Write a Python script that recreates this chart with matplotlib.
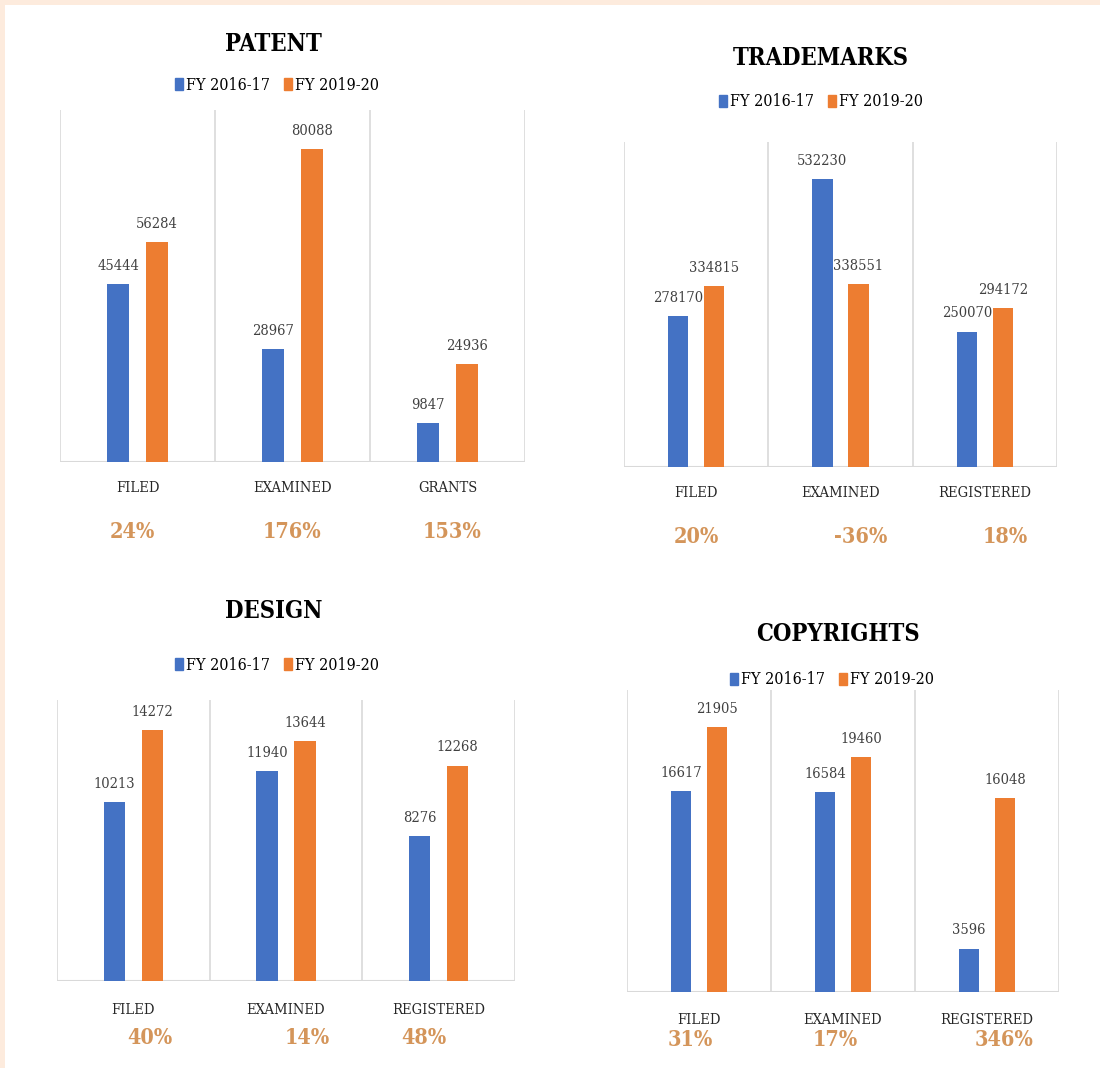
import matplotlib.pyplot as plt
import numpy as np

# data
series_names = ['FY 2016-17', 'FY 2019-20']

patent_cats = ['FILED', 'EXAMINED', 'GRANTS']
patent_old = [45444, 28967, 9847]
patent_new = [56284, 80088, 24936]
patent_pct = ['24%', '176%', '153%']

tm_cats = ['FILED', 'EXAMINED', 'REGISTERED']
tm_old = [278170, 532230, 250070]
tm_new = [334815, 338551, 294172]
tm_pct = ['20%', '-36%', '18%']

design_cats = ['FILED', 'EXAMINED', 'REGISTERED']
design_old = [10213, 11940, 8276]
design_new = [14272, 13644, 12268]
design_pct = ['40%', '14%', '48%']

copy_cats = ['FILED', 'EXAMINED', 'REGISTERED']
copy_old = [16617, 16584, 3596]
copy_new = [21905, 19460, 16048]
copy_pct = ['31%', '17%', '346%']

BLUE = '#4472C4'
ORANGE = '#ED7D31'
PCT = '#D4955A'
GRID = '#D9D9D9'
FONT = ['DejaVu Serif', 'Liberation Serif']

W, H = 1100, 1068
fig = plt.figure(figsize=(W / 100, H / 100), dpi=100)
fig.patch.set_facecolor('#FDEBDD')
bg = fig.add_axes([5 / W, 0, 1 - 5 / W, 1 - 5 / H])
bg.set_facecolor('white')
bg.set_xticks([])
bg.set_yticks([])
for s in bg.spines.values():
    s.set_visible(False)


def px_axes(x0, y0, x1, y1):
    # pixel box (top-left origin) -> figure fraction
    return fig.add_axes([x0 / W, 1 - y1 / H, (x1 - x0) / W, (y1 - y0) / H])


def panel(box, ymax, title, title_xy, legend_xy, cats, old, new, pct,
          pct_dx, cat_dy, pct_dy):
    ax = px_axes(*box)
    x = np.arange(len(cats))
    w = 0.14
    ax.bar(x - 0.125, old, w, color=BLUE, zorder=3)
    ax.bar(x + 0.125, new, w, color=ORANGE, zorder=3)
    ax.set_xlim(-0.5, len(cats) - 0.5)
    ax.set_ylim(0, ymax)
    for s in ax.spines.values():
        s.set_visible(False)
    ax.axhline(0, color=GRID, lw=1.5, zorder=2)
    for b in np.arange(-0.5, len(cats), 1.0):
        ax.axvline(b, color=GRID, lw=1.2, zorder=1)
    ax.set_xticks([])
    ax.set_yticks([])
    for xs, vals in ((x - 0.125, old), (x + 0.125, new)):
        for xi, v in zip(xs, vals):
            ax.annotate(str(v), (xi, v), xytext=(0, 8),
                        textcoords='offset points', ha='center', va='bottom',
                        fontsize=10.5, color='#404040', family=FONT,
                        fontstretch='condensed')
    for i, c in enumerate(cats):
        ax.annotate(c, (i, 0), xytext=(0, -cat_dy), textcoords='offset pixels',
                    ha='center', va='center', fontsize=10.5, color='#262626',
                    family=FONT, fontstretch='condensed')
        ax.annotate(pct[i], (i + pct_dx[i], 0), xytext=(0, -pct_dy),
                    textcoords='offset pixels', ha='center', va='center',
                    fontsize=15.5, color=PCT, family=FONT, fontweight='bold',
                    fontstretch='condensed')
    fig.text(title_xy[0] / W, 1 - title_xy[1] / H, title, ha='center',
             va='center', fontsize=17, fontweight='bold', color='black',
             family=FONT, fontstretch='condensed')
    handles = [plt.Rectangle((0, 0), 1, 1, color=BLUE),
               plt.Rectangle((0, 0), 1, 1, color=ORANGE)]
    fig.legend(handles, series_names, loc='center',
               bbox_to_anchor=(legend_xy[0] / W, 1 - legend_xy[1] / H),
               ncol=2, frameon=False, handlelength=0.5, handleheight=0.8,
               handletextpad=0.2, columnspacing=0.9,
               prop={'family': FONT, 'size': 11.5, 'stretch': 'condensed'})
    return ax


panel((60, 110, 525, 462), 90000, 'PATENT', (273, 44), (277, 85),
      patent_cats, patent_old, patent_new, patent_pct,
      [-0.03, 0.0, 0.03], 26, 70)
panel((624, 142, 1057, 467), 600000, 'TRADEMARKS', (821, 58), (821, 102),
      tm_cats, tm_old, tm_new, tm_pct,
      [0.0, 0.14, 0.14], 26, 70)
panel((57, 700, 515, 981), 16000, 'DESIGN', (274, 611), (277, 665),
      design_cats, design_old, design_new, design_pct,
      [0.11, 0.14, -0.1], 29, 57)
panel((627, 690, 1059, 992), 25000, 'COPYRIGHTS', (838, 634), (832, 680),
      copy_cats, copy_old, copy_new, copy_pct,
      [-0.06, -0.05, 0.12], 28, 48)

fig.savefig('out.png', dpi=100, facecolor=fig.get_facecolor())
